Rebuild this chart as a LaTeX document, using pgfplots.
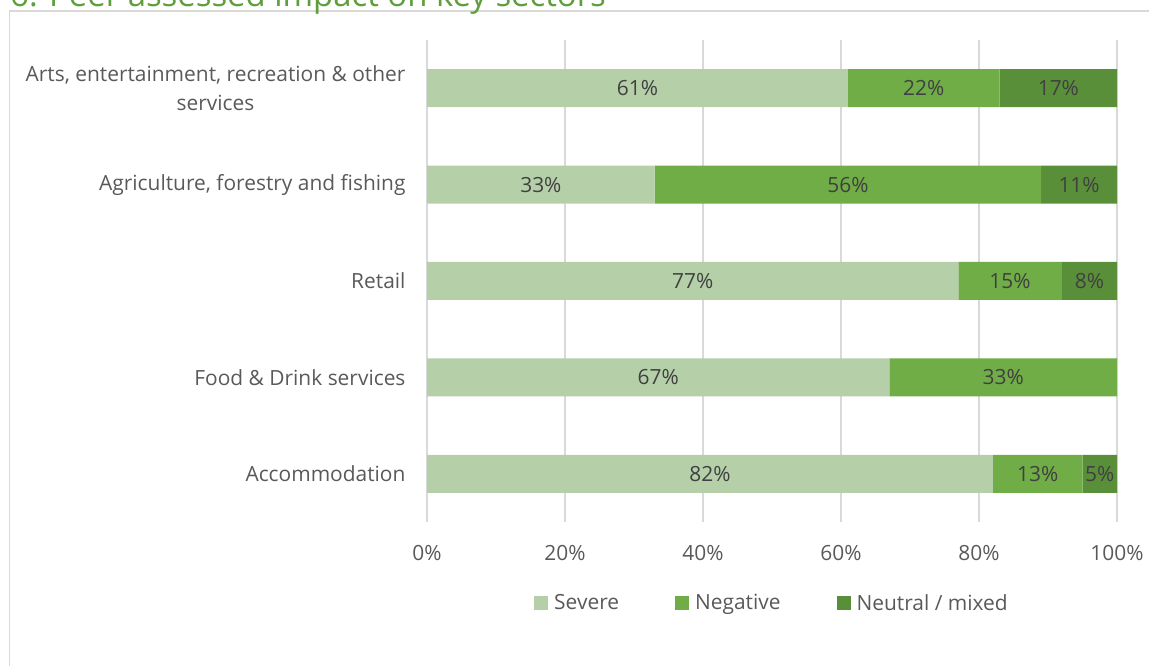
\documentclass[border=0pt]{standalone}
\usepackage{pgfplots}
\pgfplotsset{compat=1.18}
\usepackage{fontspec}
\setmainfont{Open Sans}
\definecolor{severe}{HTML}{B5D0A9}
\definecolor{negative}{HTML}{70AD47}
\definecolor{neutral}{HTML}{5A8F3A}
\definecolor{gridc}{HTML}{D9D9D9}
\definecolor{tickc}{HTML}{595959}
\definecolor{labc}{HTML}{404040}
\definecolor{titlec}{HTML}{5E9E3C}
\begin{document}
\begin{tikzpicture}[x=1bp,y=1bp]
\path[use as bounding box, clip] (0,0) rectangle (1149,666);
\draw[gridc, line width=1.5bp] (9.5,-10) -- (9.5,655) -- (1160,655);
\node[anchor=base west, inner sep=0, text=titlec, font=\fontsize{33}{38}\selectfont] at (10,659) {6. Peer assessed impact on key sectors};
\begin{axis}[
  at={(427bp,144bp)}, anchor=south west,
  scale only axis, width=690bp, height=482bp,
  xbar stacked, bar width=38bp,
  xmin=0, xmax=100, ymin=-0.5, ymax=4.5,
  axis line style={draw=none},
  major tick length=0pt,
  xtick={0,20,...,100},
  xticklabels={0\%,20\%,40\%,60\%,80\%,100\%},
  xmajorgrids, grid style={gridc, line width=1.5bp},
  ytick={0,1,2,3,4},
  yticklabels={Accommodation, Food \& Drink services, Retail, {Agriculture, forestry and fishing}, {Arts, entertainment, recreation \& other\\services}},
  yticklabel style={align=center, anchor=east, xshift=-18bp, text=tickc, font=\fontsize{21}{29}\selectfont},
  xticklabel style={text=tickc, font=\fontsize{21}{25}\selectfont, yshift=-20bp},
  /pgf/number format/assume math mode=true,
  legend columns=3,
  legend style={draw=none, at={(0.5,-0.168)}, anchor=center, font=\fontsize{21}{25}\selectfont, text=tickc,
    /tikz/every even column/.append style={column sep=54bp}},
  legend image code/.code={\fill[#1] (0bp,-7bp) rectangle (14bp,7bp); \path (18bp,0bp);},
]
\addplot[fill=severe, draw=none] coordinates {(82,0) (67,1) (77,2) (33,3) (61,4)};
\addplot[fill=negative, draw=none] coordinates {(13,0) (33,1) (15,2) (56,3) (22,4)};
\addplot[fill=neutral, draw=none] coordinates {(5,0) (0,1) (8,2) (11,3) (17,4)};
\legend{Severe, Negative, Neutral / mixed}
\end{axis}
\begin{axis}[
  at={(427bp,144bp)}, anchor=south west,
  scale only axis, width=690bp, height=482bp,
  xmin=0, xmax=100, ymin=-0.5, ymax=4.5,
  hide axis,
]
\addplot[only marks, mark=none, nodes near coords, point meta=explicit symbolic,
  every node near coord/.style={anchor=center, text=labc, font=\fontsize{21}{25}\selectfont}]
  table[meta=label] {
x y label
41 0 82\%
88.5 0 13\%
97.5 0 5\%
33.5 1 67\%
83.5 1 33\%
38.5 2 77\%
84.5 2 15\%
96 2 8\%
16.5 3 33\%
61 3 56\%
94.5 3 11\%
30.5 4 61\%
72 4 22\%
91.5 4 17\%
};
\end{axis}
\end{tikzpicture}
\end{document}
